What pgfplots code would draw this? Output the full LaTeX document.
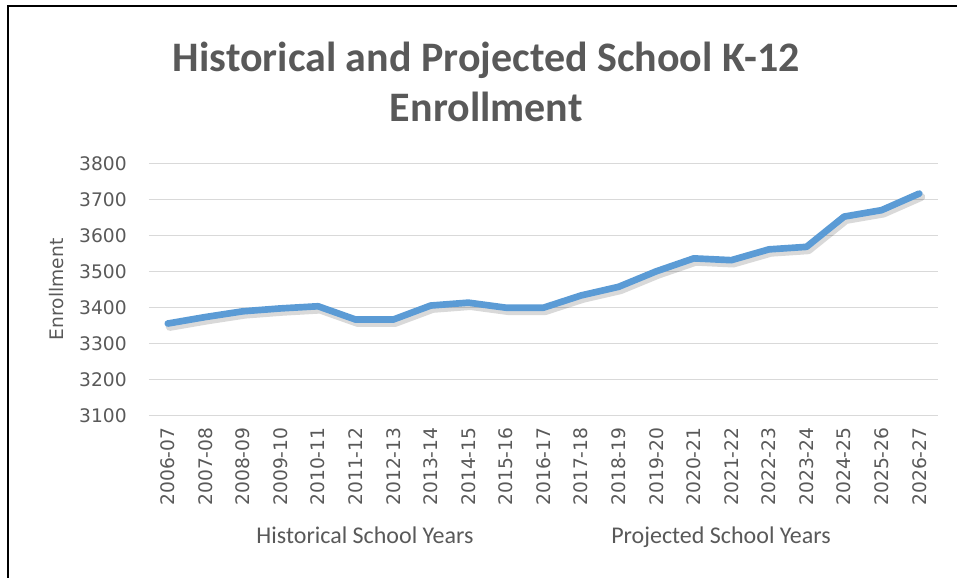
\documentclass[border=0pt]{standalone}
\usepackage{pgfplots}
\pgfplotsset{compat=1.18}
\usepackage{fontspec}
\setmainfont{Carlito}
\newfontfamily\dejavu{DejaVu Sans}
\definecolor{txt}{HTML}{595959}
\definecolor{grd}{HTML}{D9D9D9}
\definecolor{ln}{HTML}{5B9BD5}
\begin{document}
\begin{tikzpicture}
\useasboundingbox (-111.75pt,-121.3pt) rectangle (606pt,311.5pt);
\begin{axis}[
  at={(0,0)}, anchor=south west,
  scale only axis, width=591.75pt, height=189pt,
  xmin=-0.5, xmax=20.5, ymin=3100, ymax=3800,
  xtick={0,...,20},
  xticklabels={2006-07,2007-08,2008-09,2009-10,2010-11,2011-12,2012-13,2013-14,2014-15,2015-16,2016-17,2017-18,2018-19,2019-20,2020-21,2021-22,2022-23,2023-24,2024-25,2025-26,2026-27},
  ytick={3100,3200,...,3800},
  major tick length=0pt,
  axis line style={draw=none},
  ymajorgrids, grid style={grd, line width=1.1pt},
  /pgf/number format/1000 sep={},
  /pgf/number format/assume math mode=true,
  tick label style={font=\dejavu\fontsize{14}{16}\selectfont, text=txt, inner sep=0pt},
  xticklabel style={rotate=90, anchor=east},
  yticklabel style={anchor=east},
  xticklabel shift=9pt,
  yticklabel shift=16.5pt,
  ylabel={Enrollment},
  ylabel style={at={(axis description cs:-0.1166,0.5)}, anchor=center, font=\dejavu\fontsize{14}{16}\selectfont, text=txt},
]
\addplot[black, opacity=0.15, line width=6pt, line join=round, line cap=round, xshift=1.5pt, yshift=-2.5pt] coordinates {
(0,3355) (1,3373) (2,3389) (3,3397) (4,3403) (5,3366) (6,3366) (7,3405) (8,3413) (9,3399) (10,3399)
(11,3433) (12,3457) (13,3500) (14,3536) (15,3531) (16,3561) (17,3568) (18,3652) (19,3670) (20,3716)};
\addplot[ln, line width=5pt, line join=round, line cap=round] coordinates {
(0,3355) (1,3373) (2,3389) (3,3397) (4,3403) (5,3366) (6,3366) (7,3405) (8,3413) (9,3399) (10,3399)
(11,3433) (12,3457) (13,3500) (14,3536) (15,3531) (16,3561) (17,3568) (18,3652) (19,3670) (20,3716)};
\end{axis}
\node[anchor=base, text=txt, font=\bfseries\fontsize{31.5}{36}\selectfont] at (253pt,258.2pt) {Historical and Projected School K-12};
\node[anchor=base, text=txt, font=\bfseries\fontsize{31.5}{36}\selectfont] at (253pt,220.7pt) {Enrollment};
\node[anchor=base, text=txt, font=\fontsize{18}{20}\selectfont] at (162pt,-95.8pt) {Historical School Years};
\node[anchor=base, text=txt, font=\fontsize{18}{20}\selectfont] at (429pt,-95.8pt) {Projected School Years};
\draw[black, line width=2.2pt] (-105.75pt,-130pt) -- (-105.75pt,307pt) -- (620pt,307pt);
\end{tikzpicture}
\end{document}
